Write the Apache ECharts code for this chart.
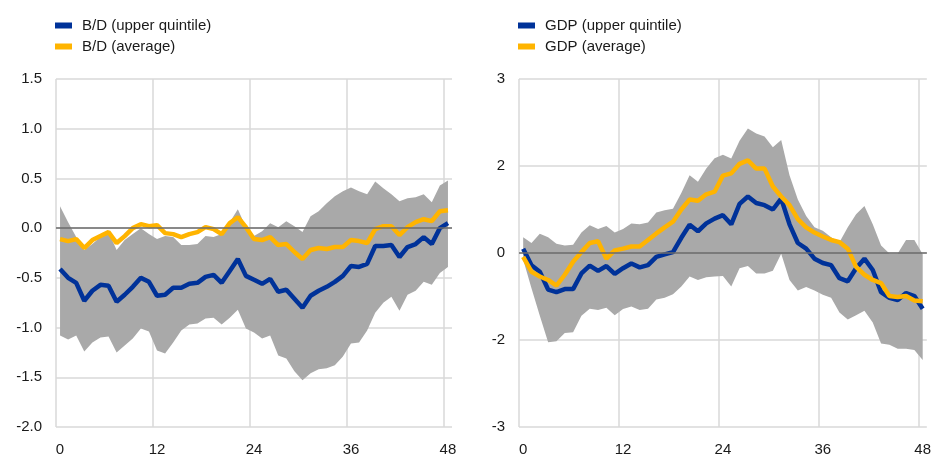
<!DOCTYPE html>
<html>
<head>
<meta charset="utf-8">
<script src="https://cdn.jsdelivr.net/npm/echarts@6/dist/echarts.min.js"></script>
<style>
html, body { margin: 0; padding: 0; background: #fff; }
#chart { width: 934px; height: 457px; }
</style>
</head>
<body>
<div id="chart"></div>
<script>
// months after the shock
var months = [];
for (var m = 0; m <= 48; m++) months.push(String(m));

// left panel: B/D
var bdUpperQuintile = [-0.41,-0.50,-0.55,-0.73,-0.63,-0.57,-0.58,-0.74,-0.67,-0.59,-0.50,-0.54,-0.68,-0.67,-0.60,-0.60,-0.56,-0.55,-0.49,-0.47,-0.55,-0.43,-0.31,-0.48,-0.52,-0.56,-0.51,-0.64,-0.62,-0.71,-0.80,-0.68,-0.63,-0.59,-0.54,-0.48,-0.38,-0.39,-0.36,-0.18,-0.18,-0.17,-0.29,-0.19,-0.16,-0.09,-0.16,0.00,0.05];
var bdAverage = [-0.11,-0.13,-0.11,-0.20,-0.12,-0.08,-0.04,-0.15,-0.08,0.00,0.04,0.02,0.03,-0.05,-0.06,-0.09,-0.06,-0.04,0.01,-0.01,-0.06,0.05,0.11,0.01,-0.11,-0.12,-0.09,-0.17,-0.16,-0.24,-0.31,-0.22,-0.20,-0.21,-0.19,-0.19,-0.12,-0.13,-0.15,-0.01,0.02,0.02,-0.07,0.01,0.06,0.09,0.07,0.17,0.18];
var bdBandHigh = [0.22,0.06,-0.09,-0.22,-0.16,-0.09,-0.04,-0.22,-0.12,-0.06,0.00,-0.06,-0.11,-0.08,-0.09,-0.17,-0.17,-0.16,-0.08,-0.09,-0.06,0.06,0.19,0.01,-0.08,-0.03,0.05,0.01,0.07,0.02,-0.04,0.12,0.17,0.25,0.32,0.37,0.41,0.37,0.34,0.47,0.40,0.34,0.27,0.30,0.31,0.34,0.26,0.43,0.48];
var bdBandLow = [-1.08,-1.12,-1.08,-1.24,-1.15,-1.10,-1.09,-1.25,-1.18,-1.11,-1.01,-1.04,-1.23,-1.26,-1.15,-1.03,-0.97,-0.96,-0.91,-0.90,-0.97,-0.90,-0.82,-1.01,-1.05,-1.11,-1.08,-1.28,-1.31,-1.44,-1.53,-1.46,-1.42,-1.41,-1.38,-1.29,-1.16,-1.15,-1.03,-0.85,-0.75,-0.69,-0.83,-0.67,-0.63,-0.54,-0.57,-0.45,-0.39];

// right panel: GDP
var gdpUpperQuintile = [0.10,-0.28,-0.43,-0.84,-0.90,-0.83,-0.83,-0.47,-0.29,-0.41,-0.30,-0.48,-0.35,-0.24,-0.33,-0.28,-0.09,-0.03,0.02,0.35,0.65,0.50,0.68,0.79,0.87,0.66,1.13,1.30,1.15,1.10,1.00,1.25,0.66,0.23,0.10,-0.13,-0.23,-0.28,-0.58,-0.65,-0.35,-0.13,-0.39,-0.90,-1.03,-1.08,-0.92,-0.99,-1.28];
var gdpAverage = [-0.09,-0.43,-0.54,-0.62,-0.75,-0.50,-0.20,0.02,0.23,0.27,-0.13,0.06,0.10,0.15,0.15,0.30,0.45,0.59,0.72,1.00,1.23,1.20,1.35,1.41,1.78,1.83,2.05,2.13,1.94,1.94,1.53,1.30,1.10,0.78,0.59,0.47,0.38,0.30,0.25,0.10,-0.32,-0.50,-0.62,-0.69,-0.99,-1.01,-0.99,-1.09,-1.11];
var gdpBandHigh = [0.36,0.23,0.44,0.36,0.21,0.17,0.19,0.47,0.64,0.55,0.62,0.47,0.55,0.68,0.66,0.70,0.93,0.98,1.02,1.38,1.79,1.64,1.94,2.18,2.26,2.17,2.58,2.86,2.75,2.68,2.43,2.60,1.79,1.23,0.85,0.59,0.51,0.36,0.25,0.59,0.89,1.08,0.66,0.17,-0.01,-0.01,0.30,0.30,-0.03];
var gdpBandLow = [-0.15,-0.81,-1.44,-2.05,-2.03,-1.84,-1.82,-1.44,-1.28,-1.31,-1.26,-1.43,-1.29,-1.23,-1.31,-1.28,-1.07,-1.03,-0.95,-0.77,-0.54,-0.62,-0.56,-0.54,-0.53,-0.77,-0.35,-0.30,-0.47,-0.47,-0.41,-0.02,-0.62,-0.86,-0.78,-0.86,-0.96,-1.03,-1.37,-1.53,-1.43,-1.33,-1.60,-2.08,-2.11,-2.20,-2.20,-2.23,-2.46];

// labels printed on the GDP axis
var gdpTickLabels = { '4': '3', '2': '2', '0': '0', '-2': '-2', '-4': '-3' };

var BLUE = '#003299';
var ORANGE = '#ffb400';
var BAND = '#a9a9a9';
var GRIDC = '#d9d9d9';
var FONT = '"Liberation Sans", Arial, sans-serif';
var TXT = '#1a1a1a';

function spread(high, low) {
	var out = [];
	for (var i = 0; i < high.length; i++) out.push(+(high[i] - low[i]).toFixed(2));
	return out;
}

function xAxisFor(idx) {
	return {
		type: 'category',
		gridIndex: idx,
		data: months,
		boundaryGap: true,
		axisLine: { show: false },
		axisTick: { show: false },
		axisLabel: { interval: 11, color: TXT, fontSize: 15, fontFamily: FONT, margin: 15 },
		splitLine: {
			show: true,
			interval: 11,
			showMaxLine: false,
			lineStyle: { color: GRIDC, width: 1.5 }
		}
	};
}

function yAxisFor(idx, min, max, step, fmt) {
	return {
		type: 'value',
		gridIndex: idx,
		min: min, max: max, interval: step,
		axisLine: { show: false },
		axisTick: { show: false },
		axisLabel: { color: TXT, fontSize: 15, fontFamily: FONT, margin: 14, formatter: fmt },
		splitLine: { lineStyle: { color: GRIDC, width: 1.5 } }
	};
}

function panelSeries(idx, low, high, upper, avg, upperName, avgName) {
	return [
		{
			name: 'low' + idx, type: 'line', xAxisIndex: idx, yAxisIndex: idx,
			stack: 'band' + idx, stackStrategy: 'all',
			data: low, symbol: 'none', silent: true,
			lineStyle: { width: 0, opacity: 0 }
		},
		{
			name: 'band' + idx, type: 'line', xAxisIndex: idx, yAxisIndex: idx,
			stack: 'band' + idx, stackStrategy: 'all',
			data: spread(high, low), symbol: 'none', silent: true,
			lineStyle: { width: 0, opacity: 0 },
			areaStyle: { color: BAND, opacity: 1 },
			markLine: {
				silent: true, symbol: 'none', label: { show: false },
				lineStyle: { color: '#6b6b6b', width: 1.5, type: 'solid' },
				data: [{ yAxis: 0 }]
			}
		},
		{
			name: upperName, type: 'line', xAxisIndex: idx, yAxisIndex: idx,
			data: upper, symbol: 'none', color: BLUE,
			lineStyle: { color: BLUE, width: 4.5 }
		},
		{
			name: avgName, type: 'line', xAxisIndex: idx, yAxisIndex: idx,
			data: avg, symbol: 'none', color: ORANGE,
			lineStyle: { color: ORANGE, width: 4.5 }
		}
	];
}

function legendFor(left, names) {
	return {
		left: left, top: 18, orient: 'vertical', padding: 0,
		icon: 'rect', itemWidth: 17, itemHeight: 6, itemGap: 6,
		data: names,
		textStyle: { color: TXT, fontSize: 15, fontFamily: FONT, padding: [0, 0, 0, 5] }
	};
}

var chart = echarts.init(document.getElementById('chart'), null, { renderer: 'canvas' });
chart.setOption({
	animation: false,
	backgroundColor: '#fff',
	legend: [
		legendFor(55, ['B/D (upper quintile)', 'B/D (average)']),
		legendFor(518, ['GDP (upper quintile)', 'GDP (average)'])
	],
	grid: [
		{ left: 56, top: 79, width: 396, height: 354 },
		{ left: 519, top: 79, width: 411, height: 354 }
	],
	xAxis: [xAxisFor(0), xAxisFor(1)],
	yAxis: [
		yAxisFor(0, -2, 1.5, 0.5, function (v) { return v.toFixed(1); }),
		yAxisFor(1, -4, 4, 2, function (v) { return gdpTickLabels[String(v)]; })
	],
	series: panelSeries(0, bdBandLow, bdBandHigh, bdUpperQuintile, bdAverage, 'B/D (upper quintile)', 'B/D (average)')
		.concat(panelSeries(1, gdpBandLow, gdpBandHigh, gdpUpperQuintile, gdpAverage, 'GDP (upper quintile)', 'GDP (average)'))
});
</script>
</body>
</html>
